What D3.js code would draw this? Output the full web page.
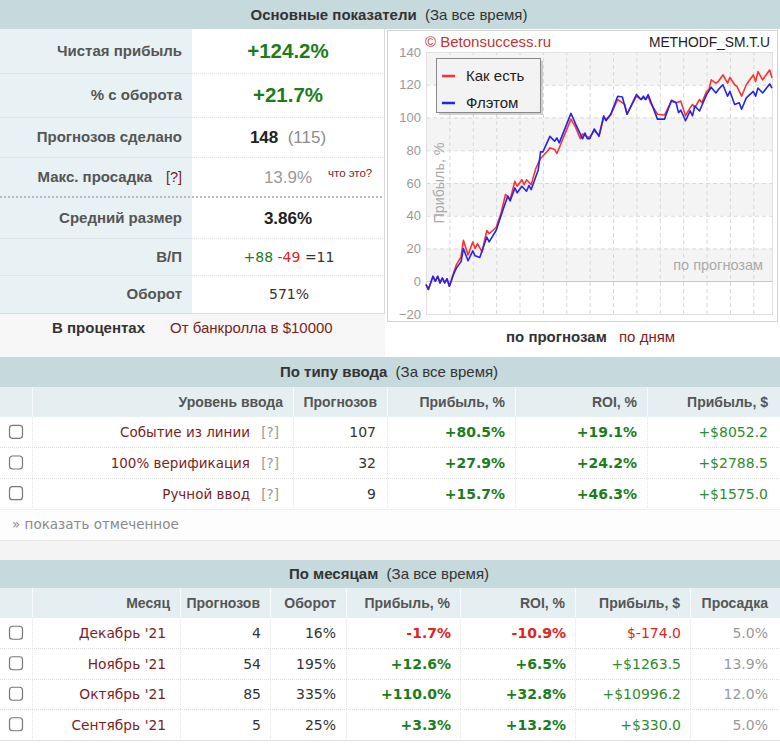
<!DOCTYPE html>
<html><head><meta charset="utf-8">
<script src="https://cdn.jsdelivr.net/npm/d3@7/dist/d3.min.js"></script>
<style>html,body{margin:0;padding:0;background:#fff;}svg{display:block;}</style>
</head><body>
<script>
// ---------- DATA ----------
const summaryLabels = ["Чистая прибыль","% с оборота","Прогнозов сделано","Макс. просадка","Средний размер","В/П","Оборот"];
const netProfit = 124.2, turnoverPct = 21.7, betsMade = 148, betsUnique = 115, maxDrawdown = 13.9, avgSize = 3.86;
const winLossDraw = [88, 49, 11];
const turnoverTotal = 571;
const yTicks = [-20, 0, 20, 40, 60, 80, 100, 120, 140];
const seriesNames = ["Как есть", "Флэтом"];
// [bet number, cumulative profit %]
const asIsSeries = [[0,-2],[1,-5],[3,3],[4,0],[5,3],[6,-1],[7,2],[8,-1],[9,1.5],[10,-3],[12,6],[13,10],[15,15],[16,25],[18,16],[20,24],[21,20],[22,23],[24,18],[26,31],[27,29],[30,33],[32,41],[34,53],[36,50],[38,61],[39,58],[41,62],[42,59],[43,62],[45,59],[47,69],[49,75],[52,79.5],[53,81.5],[55,80.5],[56,78],[57,81.5],[62,99],[64,94],[66,87],[67,90],[69,88],[70,88],[72,92],[74,89],[76,100],[77,99],[79,101.5],[82,111],[85,108],[86,102],[90,113],[92,111],[93,112],[94,111],[95,113],[96,109],[99,102],[102,101.5],[105,110],[107,109],[109,110],[111,101],[113,106],[114,108],[115,106],[117,111],[118,109],[120,116],[121,117],[122,123],[124,121],[125,122],[127,126],[129,121],[130,124.5],[132,120],[133,119],[135,113],[137,120],[140,126],[141,122],[142,128],[144,123],[147,129],[148,124.2]];
const flatSeries = [[0,-2],[1,-5],[3,3],[4,0],[5,3],[6,-1],[7,2],[8,-1],[9,1.5],[10,-3],[12,5],[13,8],[15,12],[16,20],[18,12.5],[20,18.5],[21,15.5],[23,14.5],[26,27],[27,24],[30,31],[33,44],[35,52],[36,49],[38,57],[39,54],[41,58],[43,55],[44,58.5],[45,56],[48,68],[49,79],[50,79],[53,88.5],[55,85.5],[56,87.5],[57,84.5],[62,102.5],[64,96],[67,87],[68,90.5],[69,87],[70,87],[72,93],[74,88.5],[76,101],[77,98],[79,102],[82,113],[84,112.5],[86,102],[90,114],[92,111],[93,113],[94,111],[95,114],[99,99],[102,99],[105,110.5],[107,109],[108,103],[109,104.5],[111,98],[113,104],[114,101],[115,107],[117,104],[120,114],[122,118.5],[124,115],[125,117],[127,120],[129,113],[130,116],[132,108],[134,109],[135,105],[137,112],[140,116],[141,113],[142,118],[144,115],[147,120.5],[148,118]];

const inputHeaders = ["Уровень ввода","Прогнозов","Прибыль, %","ROI, %","Прибыль, $"];
const inputLevels = ["Событие из линии","100% верификация","Ручной ввод"];
const inputCounts = [107, 32, 9];
const inputProfitPct = [80.5, 27.9, 15.7];
const inputRoi = [19.1, 24.2, 46.3];
const inputProfitUsd = [8052.2, 2788.5, 1575.0];

const monthHeaders = ["Месяц","Прогнозов","Оборот","Прибыль, %","ROI, %","Прибыль, $","Просадка"];
const months = ["Декабрь '21","Ноябрь '21","Октябрь '21","Сентябрь '21"];
const monthCounts = [4, 54, 85, 5];
const monthTurnover = [16, 195, 335, 25];
const monthProfitPct = [-1.7, 12.6, 110.0, 3.3];
const monthRoi = [-10.9, 6.5, 32.8, 13.2];
const monthProfitUsd = [-174.0, 1263.5, 10996.2, 330.0];
const monthDrawdown = [5.0, 13.9, 12.0, 5.0];

// ---------- STYLE ----------
const C = {
  head: "#c6d9dc", colHead: "#e5eff1", labelBg: "#e8f1f3", line: "#d6d6d6",
  maroon: "#7a1e1e", green: "#1b7c1b", green2: "#2e8b2e", red: "#e32222",
  gray: "#8c8c8c", dark: "#333", label: "#555"
};
const ARIAL = "'Liberation Sans', Arial, sans-serif";
const VERD = "'DejaVu Sans', Verdana, sans-serif";
const fmtPct = v => (v > 0 ? "+" : "") + v.toFixed(1) + "%";
const fmtUsd = v => v < 0 ? "$" + v.toFixed(1) : "+$" + v.toFixed(1);
const signColor = v => v < 0 ? C.red : C.green;

const W = 780, H = 745;
const svg = d3.select("body").append("svg").attr("width", W).attr("height", H)
  .style("font-family", ARIAL);

function txt(g, x, y, s, o = {}) {
  return g.append("text").attr("x", x).attr("y", y).text(s)
    .attr("text-anchor", o.anchor || "start")
    .attr("font-family", o.font || ARIAL)
    .attr("font-size", o.size || 14)
    .attr("font-weight", o.bold ? "bold" : "normal")
    .attr("fill", o.fill || C.dark);
}
function hline(x1, x2, y, o = {}) {
  svg.append("line").attr("x1", x1).attr("x2", x2).attr("y1", y).attr("y2", y)
    .attr("stroke", o.stroke || C.line).attr("stroke-width", o.w || 1)
    .attr("stroke-dasharray", o.dash || null).attr("shape-rendering", "crispEdges");
}
function vline(x, y1, y2, o = {}) {
  svg.append("line").attr("x1", x).attr("x2", x).attr("y1", y1).attr("y2", y2)
    .attr("stroke", o.stroke || C.line).attr("stroke-width", o.w || 1)
    .attr("stroke-dasharray", o.dash || null).attr("shape-rendering", "crispEdges");
}
function sectionHeader(y, h, title) {
  svg.append("rect").attr("x", 0).attr("y", y).attr("width", W).attr("height", h).attr("fill", C.head);
  const t = svg.append("text").attr("x", 389).attr("y", y + h / 2 + 5).attr("text-anchor", "middle")
    .attr("font-size", 15).attr("fill", C.dark);
  t.append("tspan").attr("font-weight", "bold").text(title);
  t.append("tspan").text("\u00a0\u00a0(За все время)");
}
function checkbox(cy) {
  svg.append("rect").attr("x", 9.5).attr("y", cy - 7).attr("width", 13).attr("height", 13)
    .attr("rx", 3).attr("fill", "#fff").attr("stroke", "#777").attr("stroke-width", 1.2);
}

// ---------- SECTION 1 ----------
sectionHeader(0, 29, "Основные показатели");
const rowEdges = [29, 73, 117, 157, 197, 238, 275, 313];
svg.append("rect").attr("x", 0).attr("y", 29).attr("width", 192).attr("height", 284).attr("fill", C.labelBg);
svg.append("rect").attr("x", 192).attr("y", 29).attr("width", 193).attr("height", 284).attr("fill", "#fff");
svg.append("rect").attr("x", 0).attr("y", 313).attr("width", 385).attr("height", 44).attr("fill", "#f7f7f7");
svg.append("rect").attr("x", 385).attr("y", 29).attr("width", 395).attr("height", 328).attr("fill", "#fff");
rowEdges.slice(1, -1).forEach((y, i) => {
  if (y === 197) hline(0, 385, y, { stroke: "#bbb", w: 2, dash: "2,2" });
  else { hline(0, 192, y, { stroke: "#dde6e8" }); hline(192, 385, y, { stroke: "#e2e2e2", dash: "1,1" }); }
});
vline(384.5, 29, 313, { stroke: "#dcdcdc" });
hline(0, 385, 313, { stroke: "#dcdcdc" });
const rowMid = i => (rowEdges[i] + rowEdges[i + 1]) / 2;
summaryLabels.forEach((l, i) => {
  if (i === 3) {
    txt(svg, 152, rowMid(i) + 5, l, { anchor: "end", bold: true, size: 15, fill: C.label });
    txt(svg, 182, rowMid(i) + 5, "[?]", { anchor: "end", size: 14.5, fill: C.maroon });
  } else txt(svg, 182, rowMid(i) + 5, l, { anchor: "end", bold: true, size: 15, fill: C.label });
});
txt(svg, 288, rowMid(0) + 7, "+" + netProfit.toFixed(1) + "%", { anchor: "middle", bold: true, size: 20.5, fill: C.green });
txt(svg, 288, rowMid(1) + 7, "+" + turnoverPct.toFixed(1) + "%", { anchor: "middle", bold: true, size: 20.5, fill: C.green });
{
  const t = svg.append("text").attr("x", 288).attr("y", rowMid(2) + 6).attr("text-anchor", "middle").attr("font-size", 17);
  t.append("tspan").attr("font-weight", "bold").attr("fill", "#222").text(betsMade);
  t.append("tspan").attr("fill", C.gray).text("\u00a0\u00a0(" + betsUnique + ")");
}
txt(svg, 288, rowMid(3) + 6, maxDrawdown.toFixed(1) + "%", { anchor: "middle", size: 17, fill: "#999" });
txt(svg, 328, rowMid(3) + 0, "что это?", { size: 11.5, fill: C.maroon });
txt(svg, 288, rowMid(4) + 6, avgSize.toFixed(2) + "%", { anchor: "middle", bold: true, size: 17, fill: "#222" });
{
  const t = svg.append("text").attr("x", 289).attr("y", rowMid(5) + 5).attr("text-anchor", "middle")
    .attr("font-family", VERD).attr("font-size", 14);
  t.append("tspan").attr("fill", C.green).text("+" + winLossDraw[0]);
  t.append("tspan").attr("fill", C.red).text(" -" + winLossDraw[1]);
  t.append("tspan").attr("fill", C.dark).text(" =" + winLossDraw[2]);
}
txt(svg, 289, rowMid(6) + 5, turnoverTotal + "%", { anchor: "middle", font: VERD, size: 14, fill: C.dark });
txt(svg, 52, 333, "В процентах", { bold: true, size: 15, fill: "#333" });
txt(svg, 170, 333, "От банкролла в $10000", { size: 15, fill: C.maroon });

// ---------- CHART ----------
svg.append("rect").attr("x", 387.5).attr("y", 30.5).attr("width", 390).attr("height", 291)
  .attr("fill", "#fff").attr("stroke", "#d4d4d4");
const x = d3.scaleLinear().domain([0, 148]).range([426, 772]);
const y = d3.scaleLinear().domain([-20, 140]).range([314, 52]);
const plot = svg.append("g");
// bands
d3.range(0, yTicks.length - 1).forEach(i => {
  const lo = yTicks[i], hi = yTicks[i + 1];
  if (i % 2 === 1) plot.append("rect").attr("x", x(0)).attr("y", y(hi)).attr("width", x(148) - x(0))
    .attr("height", y(lo) - y(hi)).attr("fill", "#f4f4f4");
});
// grid
plot.append("g").attr("transform", `translate(0,${y(-20)})`)
  .call(d3.axisBottom(x).tickValues(d3.range(10, 148, 10)).tickSize(-(y(-20) - y(140))).tickFormat(""))
  .call(g => g.select(".domain").remove())
  .call(g => g.selectAll("line").attr("stroke", "#d8d8d8").attr("stroke-dasharray", "4,3"));
plot.append("g").attr("transform", `translate(${x(0)},0)`)
  .call(d3.axisLeft(y).tickValues(yTicks.filter(v => v !== 0 && v !== -20 && v !== 140)).tickSize(-(x(148) - x(0))).tickFormat(""))
  .call(g => g.select(".domain").remove())
  .call(g => g.selectAll("line").attr("stroke", "#dadada").attr("stroke-dasharray", "4,3"));
plot.append("line").attr("x1", x(0)).attr("x2", x(148)).attr("y1", y(0)).attr("y2", y(0))
  .attr("stroke", "#c8c8c8").attr("shape-rendering", "crispEdges");
plot.append("rect").attr("x", x(0)).attr("y", y(140)).attr("width", x(148) - x(0)).attr("height", y(-20) - y(140))
  .attr("fill", "none").attr("stroke", "#e0e0e0").attr("shape-rendering", "crispEdges");
// y tick labels
plot.append("g").attr("transform", `translate(${x(0)},0)`)
  .call(d3.axisLeft(y).tickValues(yTicks).tickSize(0).tickPadding(5))
  .call(g => g.select(".domain").remove())
  .call(g => g.selectAll("text").attr("fill", "#999").attr("font-size", 13).attr("font-family", ARIAL));
txt(plot, 0, 0, "Прибыль, %", { anchor: "middle", size: 14.3, fill: "#aaa" })
  .attr("transform", `translate(444,${y(60)}) rotate(-90)`);
txt(plot, 763, y(10) + 5, "по прогнозам", { anchor: "end", size: 14.5, fill: "#aaa" });
txt(svg, 425, 47, "© Betonsuccess.ru", { size: 15, fill: "#c83232" });
txt(svg, 770, 47, "METHODF_SM.T.U", { anchor: "end", size: 13.8, fill: "#222" });
// lines
const line = d3.line().x(d => x(d[0])).y(d => y(d[1]));
plot.append("path").datum(asIsSeries).attr("d", line).attr("fill", "none").attr("stroke", "#ff3030").attr("stroke-width", 1.6).attr("stroke-linejoin", "round");
plot.append("path").datum(flatSeries).attr("d", line).attr("fill", "none").attr("stroke", "#2424ee").attr("stroke-width", 1.6).attr("stroke-linejoin", "round");
// legend
const lg = svg.append("g");
lg.append("rect").attr("x", 439).attr("y", 61).attr("width", 104).attr("height", 54).attr("fill", "#999").attr("opacity", 0.45);
lg.append("rect").attr("x", 436.5).attr("y", 58.5).attr("width", 104).attr("height", 54).attr("fill", "#f3f3f3").attr("stroke", "#888");
[["#ff3030", 76], ["#2424ee", 103]].forEach(([c, yy], i) => {
  lg.append("line").attr("x1", 442).attr("x2", 455).attr("y1", yy).attr("y2", yy).attr("stroke", c).attr("stroke-width", 2.5);
  txt(lg, 466, yy + 5, seriesNames[i], { size: 15, fill: "#222" });
});
{
  const t = svg.append("text").attr("y", 342).attr("font-size", 15);
  t.append("tspan").attr("x", 506).attr("font-weight", "bold").attr("fill", "#333").text("по прогнозам");
  t.append("tspan").attr("x", 619).attr("fill", C.maroon).text("по дням");
}

// ---------- TABLE HELPER ----------
function drawTable(top, headers, colEdges, nRows, rowsTop, rowsBottom, cellFn) {
  svg.append("rect").attr("x", 0).attr("y", top).attr("width", W).attr("height", rowsTop - top).attr("fill", C.colHead);
  svg.append("rect").attr("x", 0).attr("y", rowsTop).attr("width", W).attr("height", rowsBottom - rowsTop).attr("fill", "#fff");
  const band = d3.scaleBand().domain(d3.range(nRows)).range([rowsTop, rowsBottom]);
  colEdges.slice(1, -1).forEach(cx => {
    vline(cx + 0.5, top, rowsTop, { stroke: "#f7fbfc" });
    vline(cx + 0.5, rowsTop, rowsBottom, { stroke: "#e4e4e4", dash: "1,1" });
  });
  headers.forEach((h, i) => {
    txt(svg, colEdges[i + 2] - 10, (top + rowsTop) / 2 + 5, h, { anchor: "end", bold: true, size: 14, fill: C.label });
  });
  d3.range(nRows).forEach(r => {
    const cy = band(r) + band.bandwidth() / 2;
    if (r > 0) hline(0, W, band(r), { stroke: "#dcdcdc", dash: "1,1" });
    checkbox(cy);
    cellFn(r, cy);
  });
  hline(0, W, rowsBottom, { stroke: "#e0e0e0" });
}

// ---------- SECTION 2 ----------
sectionHeader(357, 30, "По типу ввода");
const inputCols = [0, 32, 293, 387, 515, 647, 778];
drawTable(387, inputHeaders, inputCols, inputLevels.length, 417, 509, (r, cy) => {
  const b = cy + 5;
  txt(svg, 250, b, inputLevels[r], { anchor: "end", font: VERD, size: 13.5, fill: C.maroon });
  txt(svg, 279, b, "[?]", { anchor: "end", font: VERD, size: 13.5, fill: "#999" });
  txt(svg, inputCols[3] - 11, b, inputCounts[r], { anchor: "end", font: VERD, size: 14, fill: C.dark });
  txt(svg, inputCols[4] - 10, b, fmtPct(inputProfitPct[r]), { anchor: "end", font: VERD, bold: true, size: 14, fill: signColor(inputProfitPct[r]) });
  txt(svg, inputCols[5] - 10, b, fmtPct(inputRoi[r]), { anchor: "end", font: VERD, bold: true, size: 14, fill: signColor(inputRoi[r]) });
  txt(svg, inputCols[6] - 10, b, fmtUsd(inputProfitUsd[r]), { anchor: "end", font: VERD, size: 14, fill: inputProfitUsd[r] < 0 ? C.red : C.green2 });
});
svg.append("rect").attr("x", 0).attr("y", 509.5).attr("width", W).attr("height", 30).attr("fill", "#fdfdfd");
txt(svg, 12, 529, "» показать отмеченное", { font: VERD, size: 13.5, fill: "#8a8a8a" });
svg.append("rect").attr("x", 0).attr("y", 540).attr("width", W).attr("height", 20).attr("fill", "#f4f4f4");
hline(0, W, 540, { stroke: "#e6e6e6" });

// ---------- SECTION 3 ----------
sectionHeader(560, 28, "По месяцам");
const monthCols = [0, 32, 180, 270, 346, 460, 575, 690, 778];
drawTable(588, monthHeaders, monthCols, months.length, 618, 740, (r, cy) => {
  const b = cy + 5, o = { anchor: "end", font: VERD, size: 14 };
  txt(svg, monthCols[2] - 14, b, months[r], { ...o, size: 13.8, fill: C.maroon });
  txt(svg, monthCols[3] - 9, b, monthCounts[r], { ...o, fill: C.dark });
  txt(svg, monthCols[4] - 10, b, monthTurnover[r] + "%", { ...o, fill: C.dark });
  txt(svg, monthCols[5] - 9, b, fmtPct(monthProfitPct[r]), { ...o, bold: true, fill: signColor(monthProfitPct[r]) });
  txt(svg, monthCols[6] - 9, b, fmtPct(monthRoi[r]), { ...o, bold: true, fill: signColor(monthRoi[r]) });
  txt(svg, monthCols[7] - 9, b, fmtUsd(monthProfitUsd[r]), { ...o, fill: monthProfitUsd[r] < 0 ? C.red : C.green2 });
  txt(svg, monthCols[8] - 10, b, monthDrawdown[r].toFixed(1) + "%", { ...o, fill: "#999" });
});
svg.append("rect").attr("x", 0).attr("y", 741).attr("width", W).attr("height", 4).attr("fill", "#fff");
</script>
</body></html>
